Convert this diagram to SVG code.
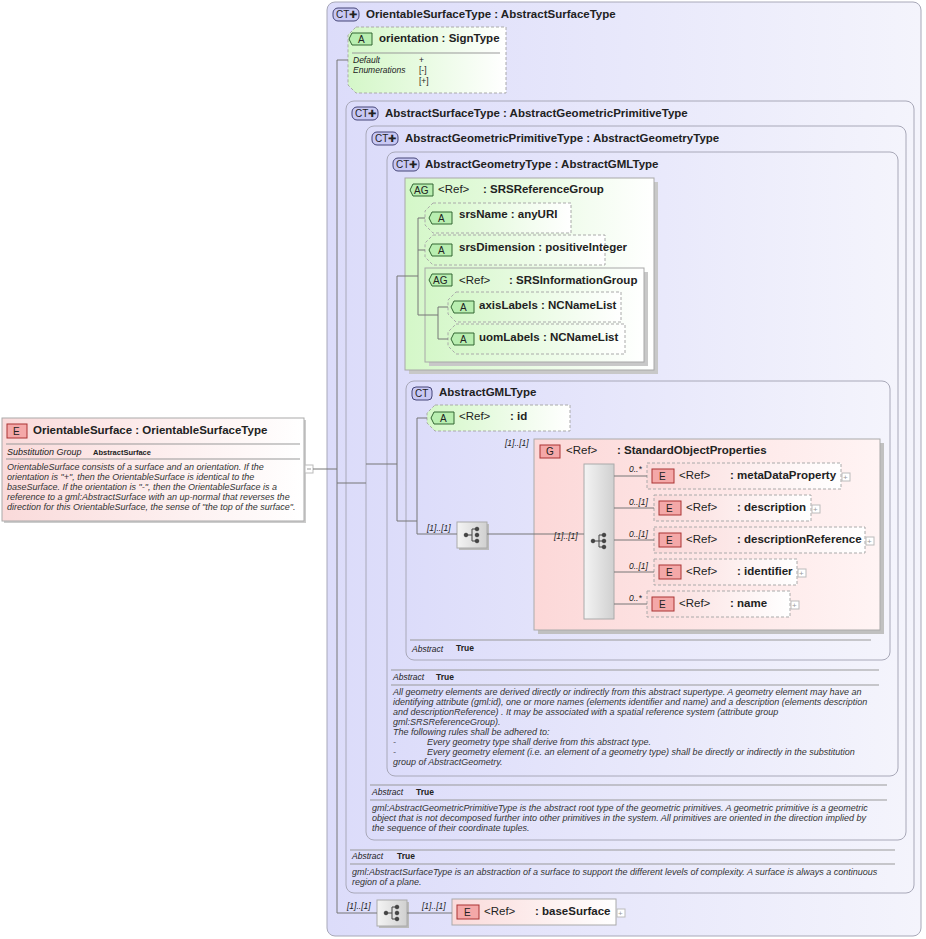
<svg xmlns="http://www.w3.org/2000/svg" width="926" height="939" viewBox="0 0 926 939">
<defs>
<linearGradient id="gE" x1="0" y1="0" x2="1" y2="0"><stop offset="0" stop-color="#fadada"/><stop offset="1" stop-color="#ffffff"/></linearGradient>
<linearGradient id="gA" x1="0" y1="0" x2="1" y2="0"><stop offset="0" stop-color="#d4f7c8"/><stop offset="1" stop-color="#ffffff"/></linearGradient>
<linearGradient id="gCT" x1="0" y1="0" x2="1" y2="0"><stop offset="0" stop-color="#dcdcfa"/><stop offset="1" stop-color="#f4f4fc"/></linearGradient>
<linearGradient id="gG" x1="0" y1="0" x2="1" y2="0"><stop offset="0" stop-color="#fcd8d8"/><stop offset="1" stop-color="#fff4f4"/></linearGradient>
<linearGradient id="gS" x1="0" y1="0" x2="1" y2="0"><stop offset="0" stop-color="#f4f4f4"/><stop offset="1" stop-color="#d0d0d0"/></linearGradient>
</defs>
<style>
text{font-family:"Liberation Sans",Arial,sans-serif;fill:#222}
.t{font-size:11.5px;font-weight:bold}
.r{font-size:11.5px}
.d{font-size:9px;font-style:italic;fill:#333}
.k{font-size:8.5px;font-weight:bold}
.m{font-size:8.5px;font-style:italic}
.ct{fill:url(#gCT);stroke:#a8a8b8;stroke-width:1}
.ag{fill:url(#gA);stroke:#a8a8a8;stroke-width:1}
.at{fill:url(#gA);stroke:#aaa;stroke-dasharray:3,2}
.el{fill:url(#gE);stroke:#aaa;stroke-dasharray:3,2}
.els{fill:url(#gE);stroke:#aaa}
.bE{fill:#f4a8a8;stroke:#a33}
.bA{fill:#b8eeb0;stroke:#363}
.bC{fill:#c8c8f4;stroke:#447}
.sep{stroke:#999;stroke-width:1}
.ln{stroke:#777;stroke-width:1;fill:none}
.bt{font-size:10px}
.pl{fill:#fff;stroke:#bbb}
</style>

<g id="outerCT">
<rect x="327" y="2" width="594" height="934" rx="8" class="ct"/>
<rect x="333" y="8" width="26" height="13" rx="5" class="bC"/><text x="336" y="18" class="bt">CT✚</text>
<text x="366" y="18" class="t">OrientableSurfaceType : AbstractSurfaceType</text>
</g>

<g id="orientation">
<path d="M356,27 H506 V93 H356 L348,85 V35 Z" class="at"/>
<path d="M352,33 H372 V45 H352 L349,39 Z" class="bA"/><text x="358" y="43" class="bt">A</text>
<text x="379" y="42" class="t">orientation : SignType</text>
<line x1="352" y1="53" x2="500" y2="53" class="sep"/>
<text x="353" y="63" class="m">Default</text><text x="419" y="63" class="m" style="font-style:normal">+</text>
<text x="353" y="73" class="m">Enumerations</text><text x="419" y="73" class="m" style="font-style:normal">[-]</text>
<text x="419" y="84" class="m" style="font-style:normal">[+]</text>
</g>

<g id="AbstractSurfaceType">
<rect x="346" y="101" width="568" height="792" rx="8" class="ct"/>
<rect x="352" y="107" width="26" height="13" rx="5" class="bC"/><text x="355" y="117" class="bt">CT✚</text>
<text x="385" y="117" class="t">AbstractSurfaceType : AbstractGeometricPrimitiveType</text>
<line x1="350" y1="850" x2="895" y2="850" class="sep"/>
<line x1="350" y1="864" x2="895" y2="864" class="sep"/>
<text x="352" y="859" class="m">Abstract</text><text x="397" y="859" class="k">True</text>
<text x="352" y="875" class="d">gml:AbstractSurfaceType is an abstraction of a surface to support the different levels of complexity. A surface is always a continuous</text>
<text x="352" y="885" class="d">region of a plane.</text>
</g>

<g id="AbstractGeometricPrimitiveType">
<rect x="366" y="126" width="540" height="714" rx="8" class="ct"/>
<rect x="372" y="132" width="26" height="13" rx="5" class="bC"/><text x="375" y="142" class="bt">CT✚</text>
<text x="405" y="142" class="t">AbstractGeometricPrimitiveType : AbstractGeometryType</text>
<line x1="370" y1="785" x2="887" y2="785" class="sep"/>
<line x1="370" y1="800" x2="887" y2="800" class="sep"/>
<text x="372" y="795" class="m">Abstract</text><text x="416" y="795" class="k">True</text>
<text x="372" y="811" class="d">gml:AbstractGeometricPrimitiveType is the abstract root type of the geometric primitives. A geometric primitive is a geometric</text>
<text x="372" y="821" class="d">object that is not decomposed further into other primitives in the system. All primitives are oriented in the direction implied by</text>
<text x="372" y="831" class="d">the sequence of their coordinate tuples.</text>
</g>

<g id="AbstractGeometryType">
<rect x="387" y="152" width="511" height="624" rx="8" class="ct"/>
<rect x="393" y="158" width="26" height="13" rx="5" class="bC"/><text x="396" y="168" class="bt">CT✚</text>
<text x="425" y="168" class="t">AbstractGeometryType : AbstractGMLType</text>
<line x1="391" y1="670" x2="879" y2="670" class="sep"/>
<line x1="391" y1="685" x2="879" y2="685" class="sep"/>
<text x="393" y="680" class="m">Abstract</text><text x="436" y="680" class="k">True</text>
<text x="393" y="695" class="d">All geometry elements are derived directly or indirectly from this abstract supertype. A geometry element may have an</text>
<text x="393" y="705" class="d">identifying attribute (gml:id), one or more names (elements identifier and name) and a description (elements description</text>
<text x="393" y="715" class="d">and descriptionReference) . It may be associated with a spatial reference system (attribute group</text>
<text x="393" y="725" class="d">gml:SRSReferenceGroup).</text>
<text x="393" y="735" class="d">The following rules shall be adhered to:</text>
<text x="393" y="745" class="d">-</text><text x="427" y="745" class="d">Every geometry type shall derive from this abstract type.</text>
<text x="393" y="755" class="d">-</text><text x="427" y="755" class="d">Every geometry element (i.e. an element of a geometry type) shall be directly or indirectly in the substitution</text>
<text x="393" y="765" class="d">group of AbstractGeometry.</text>
</g>

<g id="SRSReferenceGroup">
<rect x="409" y="182" width="249" height="192" fill="#c8c8c8"/>
<rect x="405" y="178" width="249" height="192" class="ag"/>
<path d="M413,184 H433 V196 H413 L410,190 Z" class="bA"/><text x="414" y="194" class="bt">AG</text>
<text x="438" y="193" class="r">&lt;Ref&gt;</text><text x="483" y="193" class="t">: SRSReferenceGroup</text>
</g>
<g id="srsName">
<path d="M433,203 H571 V233 H433 L425,225 V211 Z" class="at"/>
<path d="M432,212 H452 V224 H432 L429,218 Z" class="bA"/><text x="438" y="222" class="bt">A</text>
<text x="459" y="218" class="t">srsName : anyURI</text>
</g>
<g id="srsDimension">
<path d="M433,235 H605 V265 H433 L425,257 V243 Z" class="at"/>
<path d="M432,244 H452 V256 H432 L429,250 Z" class="bA"/><text x="438" y="254" class="bt">A</text>
<text x="459" y="251" class="t">srsDimension : positiveInteger</text>
</g>
<g id="SRSInformationGroup">
<rect x="429" y="272" width="219" height="94" fill="#c8c8c8"/>
<rect x="425" y="268" width="219" height="94" class="ag"/>
<path d="M432,274 H452 V286 H432 L429,280 Z" class="bA"/><text x="433" y="284" class="bt">AG</text>
<text x="459" y="284" class="r">&lt;Ref&gt;</text><text x="509" y="284" class="t">: SRSInformationGroup</text>
</g>
<g id="axisLabels">
<path d="M456,292 H621 V322 H456 L448,314 V300 Z" class="at"/>
<path d="M454,301 H474 V313 H454 L451,307 Z" class="bA"/><text x="460" y="311" class="bt">A</text>
<text x="479" y="309" class="t">axisLabels : NCNameList</text>
</g>
<g id="uomLabels">
<path d="M456,324 H625 V354 H456 L448,346 V332 Z" class="at"/>
<path d="M454,333 H474 V345 H454 L451,339 Z" class="bA"/><text x="460" y="343" class="bt">A</text>
<text x="479" y="341" class="t">uomLabels : NCNameList</text>
</g>

<g id="AbstractGMLType">
<rect x="406" y="381" width="484" height="279" rx="8" class="ct"/>
<rect x="412" y="387" width="20" height="13" rx="4" class="bC"/><text x="415" y="397" class="bt">CT</text>
<text x="439" y="396" class="t">AbstractGMLType</text>
<line x1="410" y1="640" x2="871" y2="640" class="sep"/>
<text x="412" y="652" class="m">Abstract</text><text x="456" y="651" class="k">True</text>
</g>
<g id="id">
<path d="M435,405 H570 V431 H435 L427,423 V413 Z" class="at"/>
<path d="M434,412 H454 V424 H434 L431,418 Z" class="bA"/><text x="440" y="422" class="bt">A</text>
<text x="459" y="420" class="r">&lt;Ref&gt;</text><text x="510" y="420" class="t">: id</text>
</g>

<g id="StandardObjectProperties">
<rect x="538" y="443" width="346" height="191" fill="#c0c0c0"/>
<rect x="534" y="439" width="346" height="191" fill="url(#gG)" stroke="#aaa"/>
<rect x="540" y="445" width="20" height="13" class="bE"/><text x="546" y="455" class="bt">G</text>
<text x="566" y="454" class="r">&lt;Ref&gt;</text><text x="617" y="454" class="t">: StandardObjectProperties</text>
</g>
<g id="seqInner">
<rect x="584" y="464" width="30" height="155" fill="url(#gS)" stroke="#aaa"/>
<g fill="#444" stroke="#444"><circle cx="593" cy="541" r="1.8"/><line x1="593" y1="541" x2="599" y2="541"/><line x1="599" y1="535" x2="599" y2="547"/><line x1="599" y1="535" x2="603" y2="535"/><line x1="599" y1="541" x2="603" y2="541"/><line x1="599" y1="547" x2="603" y2="547"/><circle cx="604" cy="535" r="1.8"/><circle cx="604" cy="541" r="1.8"/><circle cx="604" cy="547" r="1.8"/></g>
</g>
<g id="metaDataProperty">
<rect x="647" y="463" width="194" height="26" class="el"/>
<rect x="652" y="469" width="22" height="14" class="bE"/><text x="659" y="480" class="bt">E</text>
<text x="679" y="479" class="r">&lt;Ref&gt;</text><text x="730" y="479" class="t">: metaDataProperty</text>
<rect x="842" y="473" width="8" height="8" class="pl"/><text x="843" y="480" style="font-size:8px;fill:#999">+</text>
</g>
<g id="description">
<rect x="654" y="495" width="157" height="26" class="el"/>
<rect x="659" y="501" width="22" height="14" class="bE"/><text x="666" y="512" class="bt">E</text>
<text x="686" y="511" class="r">&lt;Ref&gt;</text><text x="737" y="511" class="t">: description</text>
<rect x="812" y="505" width="8" height="8" class="pl"/><text x="813" y="512" style="font-size:8px;fill:#999">+</text>
</g>
<g id="descriptionReference">
<rect x="654" y="527" width="211" height="26" class="el"/>
<rect x="659" y="533" width="22" height="14" class="bE"/><text x="666" y="544" class="bt">E</text>
<text x="686" y="543" class="r">&lt;Ref&gt;</text><text x="737" y="543" class="t">: descriptionReference</text>
<rect x="866" y="537" width="8" height="8" class="pl"/><text x="867" y="544" style="font-size:8px;fill:#999">+</text>
</g>
<g id="identifier">
<rect x="654" y="559" width="143" height="26" class="el"/>
<rect x="659" y="565" width="22" height="14" class="bE"/><text x="666" y="576" class="bt">E</text>
<text x="686" y="575" class="r">&lt;Ref&gt;</text><text x="737" y="575" class="t">: identifier</text>
<rect x="798" y="569" width="8" height="8" class="pl"/><text x="799" y="576" style="font-size:8px;fill:#999">+</text>
</g>
<g id="name">
<rect x="647" y="591" width="143" height="26" class="el"/>
<rect x="652" y="597" width="22" height="14" class="bE"/><text x="659" y="608" class="bt">E</text>
<text x="679" y="607" class="r">&lt;Ref&gt;</text><text x="730" y="607" class="t">: name</text>
<rect x="791" y="601" width="8" height="8" class="pl"/><text x="792" y="608" style="font-size:8px;fill:#999">+</text>
</g>

<g id="seqGML">
<rect x="459" y="524" width="30" height="26" fill="#bbb"/>
<rect x="457" y="522" width="30" height="26" fill="url(#gS)" stroke="#aaa"/>
<g fill="#444" stroke="#444"><circle cx="466" cy="535" r="1.8"/><line x1="466" y1="535" x2="472" y2="535"/><line x1="472" y1="529" x2="472" y2="541"/><line x1="472" y1="529" x2="476" y2="529"/><line x1="472" y1="541" x2="476" y2="541"/><circle cx="477" cy="529" r="1.8"/><circle cx="477" cy="535" r="1.8"/><circle cx="477" cy="541" r="1.8"/></g>
</g>

<g id="seqOuter">
<rect x="379" y="902" width="30" height="26" fill="#bbb"/>
<rect x="377" y="900" width="30" height="26" fill="url(#gS)" stroke="#aaa"/>
<g fill="#444" stroke="#444"><circle cx="386" cy="913" r="1.8"/><line x1="386" y1="913" x2="392" y2="913"/><line x1="392" y1="907" x2="392" y2="919"/><line x1="392" y1="907" x2="396" y2="907"/><line x1="392" y1="919" x2="396" y2="919"/><circle cx="397" cy="907" r="1.8"/><circle cx="397" cy="913" r="1.8"/><circle cx="397" cy="919" r="1.8"/></g>
</g>
<g id="baseSurface">
<rect x="452" y="899" width="164" height="26" class="els" stroke="#bbb"/>
<rect x="457" y="905" width="22" height="14" class="bE"/><text x="464" y="916" class="bt">E</text>
<text x="484" y="915" class="r">&lt;Ref&gt;</text><text x="535" y="915" class="t">: baseSurface</text>
<rect x="617" y="909" width="8" height="8" class="pl"/><text x="618" y="916" style="font-size:8px;fill:#999">+</text>
</g>

<g id="OrientableSurface">
<rect x="4" y="420" width="302" height="103" fill="#ccc"/>
<rect x="2" y="418" width="302" height="103" fill="url(#gE)" stroke="#aaa"/>
<rect x="7" y="424" width="20" height="14" class="bE"/><text x="13" y="435" class="bt">E</text>
<text x="33" y="434" class="t">OrientableSurface : OrientableSurfaceType</text>
<line x1="6" y1="444" x2="300" y2="444" class="sep"/>
<text x="7" y="455" class="m" style="font-size:9px">Substitution Group</text><text x="93" y="455" class="k" style="font-size:7.5px">AbstractSurface</text>
<line x1="6" y1="459" x2="300" y2="459" class="sep"/>
<text x="7" y="470" class="d">OrientableSurface consists of a surface and an orientation. If the</text>
<text x="7" y="480" class="d">orientation is "+", then the OrientableSurface is identical to the</text>
<text x="7" y="490" class="d">baseSurface. If the orientation is "-", then the OrientableSurface is a</text>
<text x="7" y="500" class="d">reference to a gml:AbstractSurface with an up-normal that reverses the</text>
<text x="7" y="510" class="d">direction for this OrientableSurface, the sense of "the top of the surface".</text>
<rect x="305" y="465" width="8" height="8" class="pl"/><line x1="307" y1="469" x2="311" y2="469" stroke="#999"/>
</g>

<g id="connectors" class="ln">
<line x1="313" y1="469" x2="337" y2="469"/>
<line x1="337" y1="60" x2="337" y2="913"/>
<line x1="337" y1="60" x2="348" y2="60"/>
<line x1="337" y1="483" x2="366" y2="483"/>
<line x1="366" y1="464" x2="397" y2="464"/>
<line x1="397" y1="276" x2="397" y2="521"/>
<line x1="397" y1="276" x2="418" y2="276"/>
<line x1="418" y1="218" x2="418" y2="315"/>
<line x1="418" y1="218" x2="425" y2="218"/>
<line x1="418" y1="250" x2="425" y2="250"/>
<line x1="418" y1="315" x2="438" y2="315"/>
<line x1="438" y1="307" x2="438" y2="339"/>
<line x1="438" y1="307" x2="448" y2="307"/>
<line x1="438" y1="339" x2="448" y2="339"/>
<line x1="397" y1="521" x2="417" y2="521"/>
<line x1="417" y1="418" x2="417" y2="534"/>
<line x1="417" y1="418" x2="427" y2="418"/>
<line x1="417" y1="534" x2="457" y2="534"/>
<line x1="487" y1="534" x2="584" y2="534"/>
<line x1="614" y1="476" x2="647" y2="476"/>
<line x1="614" y1="508" x2="654" y2="508"/>
<line x1="614" y1="540" x2="654" y2="540"/>
<line x1="614" y1="572" x2="654" y2="572"/>
<line x1="614" y1="604" x2="647" y2="604"/>
<line x1="337" y1="913" x2="377" y2="913"/>
<line x1="407" y1="913" x2="452" y2="913"/>
</g>
<g id="multiplicities">
<text x="505" y="446" class="m">[1]..[1]</text>
<text x="427" y="531" class="m">[1]..[1]</text>
<text x="554" y="539" class="m">[1]..[1]</text>
<text x="629" y="472" class="m">0..*</text>
<text x="629" y="505" class="m">0..[1]</text>
<text x="629" y="537" class="m">0..[1]</text>
<text x="629" y="569" class="m">0..[1]</text>
<text x="629" y="601" class="m">0..*</text>
<text x="347" y="909" class="m">[1]..[1]</text>
<text x="422" y="909" class="m">[1]..[1]</text>
</g>
</svg>
